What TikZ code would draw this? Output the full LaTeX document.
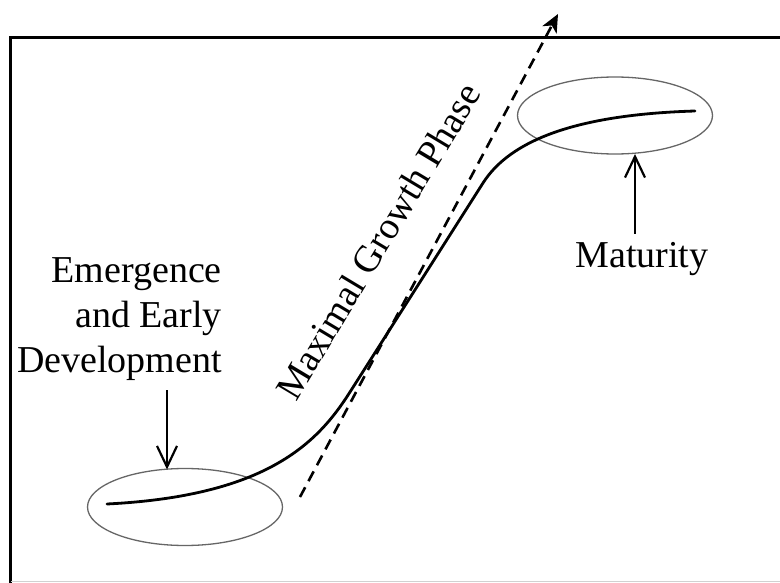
\documentclass[tikz,border=0pt]{standalone}
\usepackage{fontspec}
\setmainfont{Liberation Serif}
\usetikzlibrary{arrows.meta,shapes.geometric}
\begin{document}
\begin{tikzpicture}[x=1pt,y=-1pt,
  lbl/.style={font=\fontsize{38}{45}\selectfont, inner sep=0pt},
  zone/.style={ellipse, draw=black!60, line width=1.3pt, minimum width=195pt, minimum height=77pt, inner sep=0pt},
  pointer/.style={line width=2.4pt, -{Straight Barb[length=21pt,width=20pt,line width=2.2pt]}},
  growth/.style={line width=2.8pt, line cap=round, line join=round},
  trend/.style={line width=2.6pt, dash pattern=on 11pt off 7pt, -{Stealth[length=18pt,width=16pt,inset=5pt]}},
  frame/.style={line width=3pt}
]
\useasboundingbox (0,0) rectangle (780,583);
\fill[white] (0,0) rectangle (780,583);
\draw[frame] (10.5,583) -- (10.5,38) -- (781,38);
\draw[black!18, line width=1pt] (10.5,581.5) -- (780,581.5);

% zones
\node[zone] (early) at (185,507) {};
\node[zone] (mature) at (615,115.5) {};

% growth curve
\draw[growth] (107,504) .. controls (267,496) and (317.9,442.7) .. (350,392)
  -- (483,183) .. controls (509.9,140.8) and (575,114.6) .. (695,111);

% tangent line
\coordinate (t0) at (300,497);
\coordinate (t1) at (558,14);
\draw[trend] (t0) -- (t1);

% labels
\node[lbl, align=right, anchor=north east] (emtext) at (222,257) {Emergence\\and Early\\Development};
\node[lbl, anchor=base] (mattext) at (642,268) {Maturity};
\node[lbl, anchor=base west, rotate=59] (phase) at (296,403) {Maximal Growth Phase};

% pointers
\coordinate (p0) at (167,390);
\coordinate (p1) at (167,469.5);
\draw[pointer] (p0) -- (p1);
\coordinate (q0) at (635,234);
\coordinate (q1) at (635,154);
\draw[pointer] (q0) -- (q1);
\end{tikzpicture}
\end{document}
